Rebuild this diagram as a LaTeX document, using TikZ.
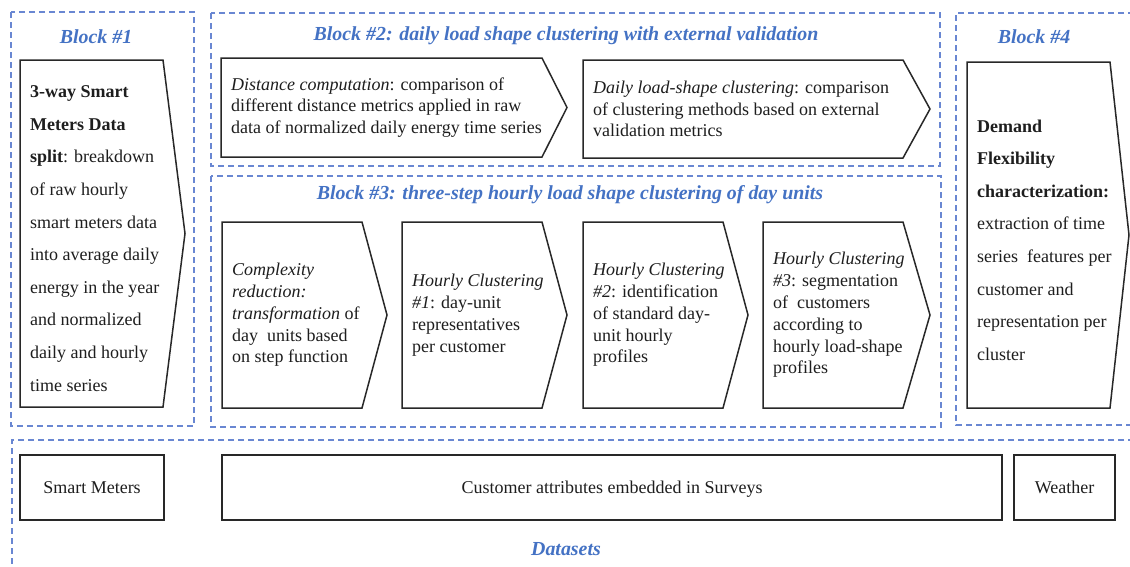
\documentclass[tikz,border=0pt]{standalone}
\usepackage{fontspec}
\setmainfont{Liberation Serif}
\definecolor{titleblue}{RGB}{68,114,196}
\definecolor{dashblue}{RGB}{105,135,210}
\definecolor{boxgray}{RGB}{40,40,40}
\definecolor{txt}{RGB}{30,30,30}
\tikzset{
  blockline/.style={draw=dashblue, line width=1.4pt, dash pattern=on 6pt off 4pt},
  boxline/.style={draw=boxgray, line width=1.5pt, line join=miter},
  btitle/.style={text=titleblue, font=\fontsize{19.9}{23}\selectfont\bfseries\itshape, inner sep=0pt},
  boxtext/.style={text=txt, align=left, inner sep=0pt, font=\fontsize{18}{21.8}\selectfont},
  tallbox/.style={boxtext, font=\fontsize{18}{32.6}\selectfont, yshift=-5pt},
  dbox/.style={draw=boxgray, line width=1.5pt, text=txt, font=\fontsize{18}{21.8}\selectfont, inner sep=0pt, text depth=0pt},
}
% #1 name, #2 x0, #3 y0, #4 x1, #5 y1, #6 tip depth, #7 style, #8 text
\newcommand{\chevbox}[8]{%
  \draw[boxline] ({#2},{#3}) -- ({#4},{#3}) -- ({#4+#6},{(#3+#5)/2}) -- ({#4},{#5}) -- ({#2},{#5}) -- cycle;
  \node[#7, anchor=west] (#1) at ({#2+10},{(#3+#5)/2}) {#8};
}
\begin{document}
\begin{tikzpicture}[x=1pt,y=-1pt]
\useasboundingbox[fill=white] (0,0) rectangle (1130,566);

% dashed blocks
\draw[blockline] (11,12) rectangle (194,426);
\draw[blockline] (211,13) rectangle (940,166);
\draw[blockline] (211,176) rectangle (941,427);
\draw[blockline] (1134,13) -- (956,13) -- (956,425) -- (1134,425);
\draw[blockline] (1134,440) -- (12,440) -- (12,570);

% titles
\node[btitle] (t1) at (96,37) {Block \#1};
\node[btitle] (t2) at (566,36) {Block \#2: daily load shape clustering with external validation};
\node[btitle] (t3) at (570,195) {Block \#3: three-step hourly load shape clustering of day units};
\node[btitle] (t4) at (1034,37) {Block \#4};
\node[btitle] (t5) at (566,549) {Datasets};

% block 1
\chevbox{b1}{20}{60}{163}{407}{22}{tallbox}{\textbf{3-way Smart}\\ \textbf{Meters Data}\\ \textbf{split}: breakdown\\ of raw hourly\\ smart meters data\\ into average daily\\ energy in the year\\ and normalized\\ daily and hourly\\ time series}

% block 2
\chevbox{b2a}{221}{58}{542}{157}{25}{boxtext}{\textit{Distance computation}: comparison of\\ different distance metrics applied in raw\\ data of normalized daily energy time series}
\chevbox{b2b}{583}{60}{903}{158}{27}{boxtext}{\textit{Daily load-shape clustering}: comparison\\ of clustering methods based on external\\ validation metrics}

% block 3
\chevbox{b3a}{222}{222}{362}{408}{25}{boxtext}{\textit{Complexity}\\ \textit{reduction:}\\ \textit{transformation} of\\ day\ \ units based\\ on step function}
\chevbox{b3b}{402}{222}{542}{408}{25}{boxtext}{\textit{Hourly Clustering}\\ \textit{\#1}: day-unit\\ representatives\\ per customer}
\chevbox{b3c}{583}{222}{723}{408}{25}{boxtext}{\textit{Hourly Clustering}\\ \textit{\#2}: identification\\ of standard day-\\ unit hourly\\ profiles}
\chevbox{b3d}{763}{222}{903}{408}{27}{boxtext}{\textit{Hourly Clustering}\\ \textit{\#3}: segmentation\\ of\ \ customers\\ according to\\ hourly load-shape\\ profiles}

% block 4
\chevbox{b4}{967}{62}{1110}{408}{19}{tallbox}{\textbf{Demand}\\ \textbf{Flexibility}\\ \textbf{characterization:}\\ extraction of time\\ series\ \ features per\\ customer and\\ representation per\\ cluster}

% datasets
\node[dbox, minimum width=144pt, minimum height=65pt] (sm) at (92,487.5) {Smart Meters};
\node[dbox, minimum width=780pt, minimum height=65pt] (ca) at (612,487.5) {Customer attributes embedded in Surveys};
\node[dbox, minimum width=101pt, minimum height=65pt] (we) at (1064.5,487.5) {Weather};
\end{tikzpicture}
\end{document}
